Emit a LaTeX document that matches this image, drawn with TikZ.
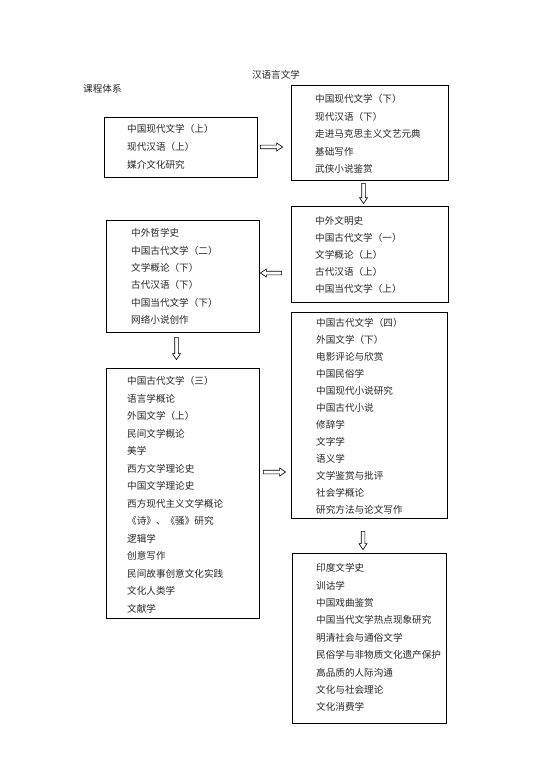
\documentclass[tikz,border=0pt]{standalone}
\usepackage{fontspec}
\setmainfont{Noto Sans CJK SC}
\usetikzlibrary{calc}
\newcommand\itemlist[5]{\foreach \t [count=\i] in {#5} \node[item, name=#1-\i] at (#2, {#3+3.7+(\i-1)*#4}) {\t};}
\begin{document}
\begin{tikzpicture}[x=1pt,y=-1pt,
  box/.style={draw=black, line width=0.8pt, rectangle, inner sep=0pt},
  item/.style={anchor=base west, inner sep=0pt, font=\fontsize{9.6}{11}\selectfont, text=black!85},
  lbl/.style={inner sep=0pt, font=\fontsize{9.6}{11}\selectfont, text=black!85},
  arrowline/.style={draw=black, line width=0.6pt, fill=white},
  rarrow/.style={to path={($(\tikztostart)+(0,-1.8)$) -- ($(\tikztotarget)+(-6,-1.8)$) -- ($(\tikztotarget)+(-6,-4)$) -- (\tikztotarget) -- ($(\tikztotarget)+(-6,4)$) -- ($(\tikztotarget)+(-6,1.8)$) -- ($(\tikztostart)+(0,1.8)$) -- cycle}},
  larrow/.style={to path={($(\tikztostart)+(0,-1.8)$) -- ($(\tikztotarget)+(6,-1.8)$) -- ($(\tikztotarget)+(6,-4)$) -- (\tikztotarget) -- ($(\tikztotarget)+(6,4)$) -- ($(\tikztotarget)+(6,1.8)$) -- ($(\tikztostart)+(0,1.8)$) -- cycle}},
  darrow/.style={to path={($(\tikztostart)+(-1.8,0)$) -- ($(\tikztotarget)+(-1.8,-6)$) -- ($(\tikztotarget)+(-4,-6)$) -- (\tikztotarget) -- ($(\tikztotarget)+(4,-6)$) -- ($(\tikztotarget)+(1.8,-6)$) -- ($(\tikztostart)+(1.8,0)$) -- cycle}}
]
\useasboundingbox (0,0) rectangle (553,783);
\fill[white] (0,0) rectangle (553,783);

\node[lbl] (title) at (276,75) {汉语言文学};
\node[lbl, anchor=west] (sys) at (83,89) {课程体系};

\node[box, minimum width=153, minimum height=60] (A) at (180.5,147) {};
\node[box, minimum width=157, minimum height=95] (B) at (369.5,132.5) {};
\node[box, minimum width=157, minimum height=96] (C) at (369.5,254) {};
\node[box, minimum width=153, minimum height=112] (D) at (182.5,276) {};
\node[box, minimum width=153, minimum height=250] (E) at (182.5,493) {};
\node[box, minimum width=156, minimum height=206] (F) at (369,415) {};
\node[box, minimum width=154, minimum height=170] (G) at (369,638) {};

\itemlist{a}{127}{129}{18}{中国现代文学（上）,现代汉语（上）,媒介文化研究}
\itemlist{b}{315}{99}{17.5}{中国现代文学（下）,现代汉语（下）,走进马克思主义文艺元典,基础写作,武侠小说鉴赏}
\itemlist{c}{315}{221}{17}{中外文明史,中国古代文学（一）,文学概论（上）,古代汉语（上）,中国当代文学（上）}
\itemlist{d}{131}{233}{17.4}{中外哲学史,中国古代文学（二）,文学概论（下）,古代汉语（下）,中国当代文学（下）,网络小说创作}
\itemlist{e}{127}{381}{17.5}{中国古代文学（三）,语言学概论,外国文学（上）,民间文学概论,美学,西方文学理论史,中国文学理论史,西方现代主义文学概论,《诗》、《骚》研究,逻辑学,创意写作,民间故事创意文化实践,文化人类学,文献学}
\itemlist{f}{316}{323}{17}{中国古代文学（四）,外国文学（下）,电影评论与欣赏,中国民俗学,中国现代小说研究,中国古代小说,修辞学,文字学,语义学,文学鉴赏与批评,社会学概论,研究方法与论文写作}
\itemlist{g}{316}{568}{17.4}{印度文学史,训诂学,中国戏曲鉴赏,中国当代文学热点现象研究,明清社会与通俗文学,民俗学与非物质文化遗产保护,高品质的人际沟通,文化与社会理论,文化消费学}

\draw[arrowline, rarrow] ($(A.east)+(3,0)$) to ($(A.east -| B.west)+(-8,0)$);
\draw[arrowline, darrow] ($(B.south)+(-6,3)$) to ($(C.north)+(-6,-2)$);
\draw[arrowline, larrow] ($(D.east -| C.west)+(-9,-3)$) to ($(D.east)+(1,-3)$);
\draw[arrowline, darrow] ($(D.south)+(-6,5)$) to ($(D.south |- E.north)+(-6,-8)$);
\draw[arrowline, rarrow] ($(E.east)+(4,-21)$) to ($(E.east -| F.west)+(-5,-21)$);
\draw[arrowline, darrow] ($(F.south)+(-6,13)$) to ($(G.north)+(-6,-3)$);
\end{tikzpicture}
\end{document}
